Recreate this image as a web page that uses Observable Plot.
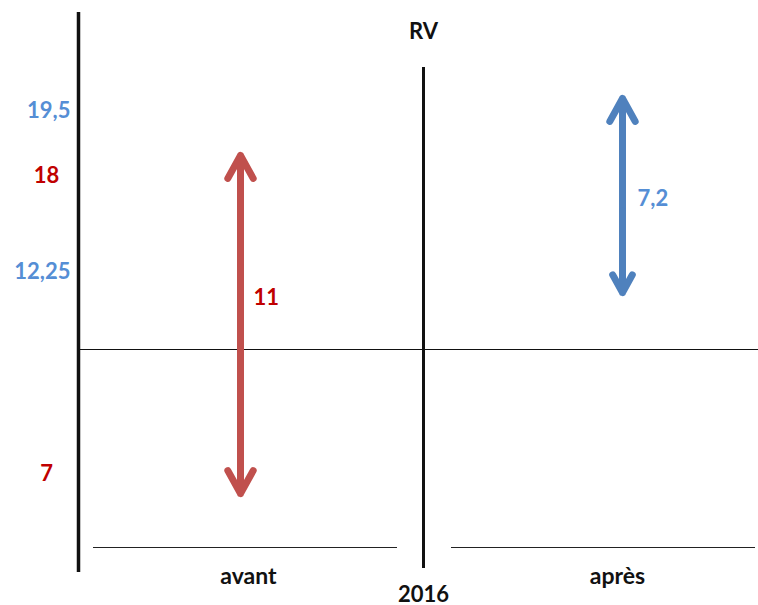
<!DOCTYPE html>
<html><head><meta charset="utf-8">
<script src="https://cdn.jsdelivr.net/npm/d3@7"></script>
<script src="https://cdn.jsdelivr.net/npm/@observablehq/plot@0.6"></script>
<style>body{margin:0;background:#fff;}</style>
</head><body><div id="chart"></div>
<script>
// ---- data ----
const title = "RV";
const year = "2016";
const periods = ["avant", "après"];
const avantRange = [7, 18];
const apresRange = [12.25, 19.5];
const differences = [11, 7.2];
const referenceLevel = 10;
const baseLevel = 5;

// ---- styling ----
const RED_TXT = "#C00000", RED = "#C0504D", BLUE_TXT = "#558ED5", BLUE = "#4F81BD", INK = "#111";
const FONT = "Lato, 'Open Sans', sans-serif";
const fmt = v => String(v).replace(".", ",");
const xOf = i => 2 * i + 1;          // period index -> x position (1, 3); 0 = axis, 2 = 2016 divider
const mid = r => (r[0] + r[1]) / 2;
const periodDx = [8, -5];

const arrowStyle = {strokeWidth: 7, headLength: 5.6, headAngle: 58, strokeLinecap: "round", strokeLinejoin: "round"};
const textStyle = {fontFamily: FONT, fontWeight: "bold", fontSize: 22};

function doubleArrow(i, range, color, insetLow, insetHigh) {
  const m = mid(range);
  return [
    Plot.arrow([{x: xOf(i), a: m, b: range[1]}], {x: "x", y1: "a", y2: "b", stroke: color, insetEnd: -insetHigh, ...arrowStyle}),
    Plot.arrow([{x: xOf(i), a: m, b: range[0]}], {x: "x", y1: "a", y2: "b", stroke: color, insetEnd: -insetLow, ...arrowStyle})
  ];
}

const chart = Plot.plot({
  width: 758,
  height: 605,
  marginLeft: 78, marginRight: 0, marginTop: 12, marginBottom: 33,
  style: {fontFamily: FONT, background: "#fff", overflow: "visible"},
  x: {type: "linear", domain: [0, 1, 2, 3, 4], range: [78, 240, 423, 622, 758], axis: null},
  y: {type: "linear", domain: [baseLevel, avantRange[0], referenceLevel, apresRange[0], avantRange[1], apresRange[1]],
      range: [547, 473, 349, 271, 175, 110], axis: null},
  marks: [
    // reference and base lines
    Plot.ruleY([referenceLevel], {stroke: INK, strokeWidth: 1}),
    Plot.ruleY([baseLevel], {x1: 0, x2: 2, insetLeft: 15, insetRight: 26, stroke: "#222", strokeWidth: 1}),
    Plot.ruleY([baseLevel], {x1: 2, x2: 4, insetLeft: 28, insetRight: 3, stroke: "#222", strokeWidth: 1}),
    // vertical axis and 2016 divider
    Plot.ruleX([0], {stroke: INK, strokeWidth: 3.5}),
    Plot.ruleX([2], {stroke: INK, strokeWidth: 3, insetTop: 55, insetBottom: 4}),
    // arrows
    ...doubleArrow(0, avantRange, RED, 20, 20),
    ...doubleArrow(1, apresRange, BLUE, 21, 12),
    // difference labels
    Plot.text([0], {x: () => xOf(0), y: () => mid(avantRange), text: () => fmt(differences[0]), dx: 13, dy: 31, textAnchor: "start", fill: RED_TXT, ...textStyle}),
    Plot.text([0], {x: () => xOf(1), y: () => mid(apresRange), text: () => fmt(differences[1]), dx: 15, dy: -12, textAnchor: "start", fill: BLUE_TXT, ...textStyle}),
    // left value labels
    Plot.text(avantRange, {x: () => 0, y: d => d, text: d => fmt(d), dx: -32, textAnchor: "middle", fill: RED_TXT, ...textStyle}),
    Plot.text(apresRange, {x: () => 0, y: d => d, text: d => fmt(d), dx: -8, textAnchor: "end", fill: BLUE_TXT, ...textStyle}),
    // title and category labels
    Plot.text([title], {x: () => 2, text: d => d, frameAnchor: "top", dy: 11, fill: INK, ...textStyle}),
    ...periods.map((p, i) => Plot.text([p], {x: () => xOf(i), text: d => d, frameAnchor: "bottom", dy: 11, dx: periodDx[i], fill: INK, ...textStyle, fontSize: 23})),
    Plot.text([year], {x: () => 2, text: d => d, frameAnchor: "bottom", dy: 29, fill: INK, ...textStyle, fontSize: 22})
  ]
});
document.getElementById("chart").appendChild(chart);
</script>
</body></html>
